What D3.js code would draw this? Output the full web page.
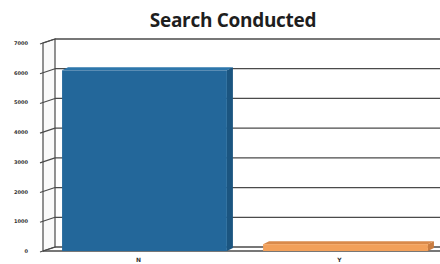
<!DOCTYPE html>
<html lang="en">
<head>
<meta charset="utf-8">
<title>Search Conducted</title>
<script src="https://cdn.jsdelivr.net/npm/d3@7"></script>
<style>
  body { margin: 0; background: #fff; }
  svg { display: block; }
</style>
</head>
<body>
<script>
// data
var categories = ["N", "Y"];
var counts = [6080, 230];
var tickValues = [0, 1000, 2000, 3000, 4000, 5000, 6000, 7000];
var barColors = ["#23679a", "#f2a05a"];
var topColors = ["#2d76ab", "#d98a4b"];
var sideColors = ["#1b5580", "#c97c40"];

var w = 440, h = 264;
var depthX = 12, depthY = -4;   // 3D offset of the back wall
var barDX = 6, barDY = -3;      // depth of the bars themselves

var svg = d3.select("body").append("svg")
  .attr("width", w)
  .attr("height", h);

var y = d3.scaleLinear().domain([0, 7000]).range([251, 43]);
var x = d3.scaleBand().domain(categories).range([47, 443])
  .paddingInner(0.18).paddingOuter(0.075);

var wallX = 43;
var lineCol = "#4a4a4a";

// title
svg.append("text")
  .attr("x", 233)
  .attr("y", 27)
  .attr("text-anchor", "middle")
  .style("font-family", "'Open Sans', sans-serif")
  .style("font-weight", "bold")
  .style("font-size", "19px")
  .style("letter-spacing", "-0.3px")
  .attr("fill", "#1e1e1e")
  .text("Search Conducted");

// back wall gridlines
svg.append("g").selectAll("line")
  .data(tickValues)
  .enter().append("line")
  .attr("x1", wallX + depthX)
  .attr("x2", w)
  .attr("y1", function(d) { return y(d) + depthY; })
  .attr("y2", function(d) { return y(d) + depthY; })
  .attr("stroke", lineCol)
  .attr("stroke-width", 1.3);

// left side wall
svg.append("path")
  .attr("d", "M" + wallX + "," + y(0) +
    "L" + (wallX + depthX) + "," + (y(0) + depthY) +
    "L" + (wallX + depthX) + "," + (y(7000) + depthY) +
    "L" + wallX + "," + y(7000) + "Z")
  .attr("fill", "#fafafa")
  .attr("stroke", lineCol)
  .attr("stroke-width", 1.2);

// slanted ticks on the side wall
svg.append("g").selectAll("line")
  .data(tickValues)
  .enter().append("line")
  .attr("x1", wallX - 3)
  .attr("x2", wallX + depthX)
  .attr("y1", function(d) { return y(d) + 1; })
  .attr("y2", function(d) { return y(d) + depthY; })
  .attr("stroke", lineCol)
  .attr("stroke-width", 1.1);

// floor
svg.append("path")
  .attr("d", "M" + wallX + "," + y(0) + "L" + w + "," + y(0))
  .attr("stroke", lineCol)
  .attr("stroke-width", 1.4);

// y tick labels
svg.append("g").selectAll("text")
  .data(tickValues)
  .enter().append("text")
  .attr("x", 28)
  .attr("y", function(d) { return y(d) + 2; })
  .attr("text-anchor", "end")
  .style("font-family", "'DejaVu Sans', sans-serif")
  .style("font-weight", "bold")
  .style("font-size", "5px")
  .attr("fill", "#333")
  .text(function(d) { return d; });

// bars: front, top, side faces
var bars = svg.append("g").selectAll("g")
  .data(categories)
  .enter().append("g");

bars.append("path")
  .attr("d", function(d, i) {
    var x0 = x(d) + x.bandwidth(), yt = y(counts[i]);
    return "M" + x0 + "," + yt + "L" + (x0 + barDX) + "," + (yt + barDY) +
      "L" + (x0 + barDX) + "," + (y(0) + barDY) + "L" + x0 + "," + y(0) + "Z";
  })
  .attr("fill", function(d, i) { return sideColors[i]; });

bars.append("path")
  .attr("d", function(d, i) {
    var x0 = x(d), x1 = x(d) + x.bandwidth(), yt = y(counts[i]);
    return "M" + x0 + "," + yt + "L" + (x0 + barDX) + "," + (yt + barDY) +
      "L" + (x1 + barDX) + "," + (yt + barDY) + "L" + x1 + "," + yt + "Z";
  })
  .attr("fill", function(d, i) { return topColors[i]; });

bars.append("rect")
  .attr("x", function(d) { return x(d); })
  .attr("y", function(d, i) { return y(counts[i]); })
  .attr("width", x.bandwidth())
  .attr("height", function(d, i) { return y(0) - y(counts[i]); })
  .attr("fill", function(d, i) { return barColors[i]; });

// category labels
svg.append("g").selectAll("text")
  .data(categories)
  .enter().append("text")
  .attr("x", function(d) { return x(d) + x.bandwidth() / 2 - 6; })
  .attr("y", 262)
  .attr("text-anchor", "middle")
  .style("font-family", "'DejaVu Sans', sans-serif")
  .style("font-weight", "bold")
  .style("font-size", "6px")
  .attr("fill", "#333")
  .text(function(d) { return d; });
</script>
</body>
</html>
